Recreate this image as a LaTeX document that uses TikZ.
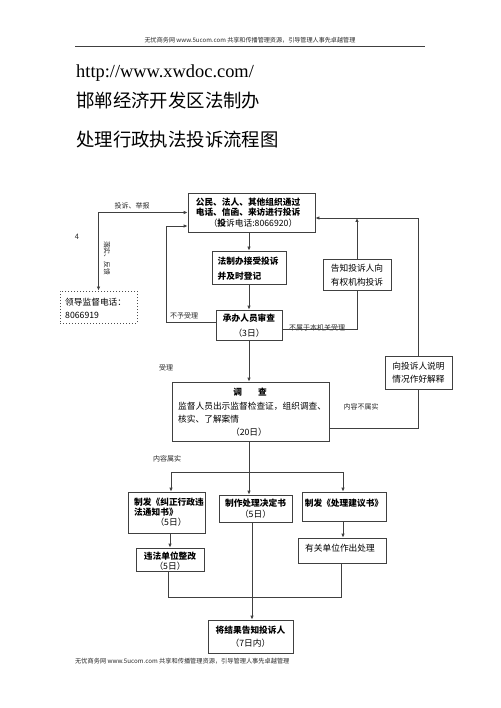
\documentclass[tikz,border=0pt]{standalone}
\usepackage{fontspec}
\setmainfont{Noto Sans CJK SC}
\newfontfamily\urlfont{Liberation Serif}
\usetikzlibrary{arrows.meta}
\begin{document}
\begin{tikzpicture}[x=1pt,y=-1pt,
  box/.style={draw=black!75, line width=0.8pt, inner sep=0pt},
  dbox/.style={draw=black!70, dotted, line width=1pt, inner sep=0pt},
  txt/.style={inner sep=0pt, font=\fontsize{8.7}{10}\selectfont},
  btxt/.style={inner sep=0pt, font=\fontsize{8.7}{10}\selectfont\bfseries},
  lbl/.style={inner sep=0pt, font=\fontsize{7}{8}\selectfont, text=black!85},
  ln/.style={line width=0.8pt, draw=black!75},
  arr/.style={ln, -{Latex[length=4pt,width=3.6pt]}},
  darr/.style={ln, {Latex[length=4pt,width=3.6pt]}-{Latex[length=4pt,width=3.6pt]}},
  title/.style={inner sep=0pt, anchor=west, font=\fontsize{18.4}{20}\selectfont}
]
\useasboundingbox (0,0) rectangle (500,708);

% header / footer
\node[lbl, font=\fontsize{6.1}{8}\selectfont] (hdr) at (250,40) {无忧商务网 www.5ucom.com 共享和传播管理资源，引导管理人事先卓越管理};
\coordinate (hl) at (75,46);
\coordinate (hr) at (425,46);
\draw[line width=0.9pt, black!75] (hl) -- (hr);
\node[lbl, anchor=west, font=\fontsize{6.2}{8}\selectfont] (ftr) at (75,661) {无忧商务网 www.5ucom.com 共享和传播管理资源，引导管理人事先卓越管理};

% titles
\node[title, font=\fontsize{18.4}{20}\selectfont\urlfont] (t0) at (76,73) {http://www.xwdoc.com/};
\node[title] (t1) at (76,101) {邯郸经济开发区法制办};
\node[title] (t2) at (76,140) {处理行政执法投诉流程图};

% boxes
\node[box, minimum width=127pt, minimum height=39pt] (A) at (251.5,212.5) {};
\node[btxt] (a1) at (248,202) {公民、法人、其他组织通过};
\node[btxt] (a2) at (248,212.5) {电话、信函、来访进行投诉};
\node[txt] (a3) at (253,223.5) {（\textbf{投}诉电话:8066920）};

\node[box, minimum width=74pt, minimum height=33pt] (B) at (249,267.5) {};
\node[btxt, anchor=west] (b1) at (217.5,261) {法制办接受投诉};
\node[btxt, anchor=west] (b2) at (217.5,276) {并及时登记};

\node[box, minimum width=66pt, minimum height=30pt] (C) at (249,325) {};
\node[btxt] (c1) at (249,318) {承办人员审查};
\node[txt] (c2) at (249,333) {（3日）};

\node[dbox, minimum width=77pt, minimum height=32pt] (L) at (98.5,307) {};
\node[txt, anchor=west] (l1) at (65,302) {领导监督电话：};
\node[txt, anchor=west] (l2) at (65,315.5) {8066919};

\node[box, minimum width=68pt, minimum height=31pt] (N) at (357,274.5) {};
\node[txt] (n1) at (357,268.5) {告知投诉人向};
\node[txt] (n2) at (357,282.5) {有权机构投诉};

\node[box, minimum width=67pt, minimum height=33pt] (E) at (418.5,372.5) {};
\node[txt] (e1) at (418.5,366) {向投诉人说明};
\node[txt] (e2) at (418.5,379) {情况作好解释};

\node[box, minimum width=157pt, minimum height=59pt] (D) at (250.5,411.5) {};
\node[btxt] (d1) at (250,392) {调\hspace{16pt}查};
\node[txt, anchor=west] (d2) at (178,406.5) {监督人员出示监督检查证，组织调查、};
\node[txt, anchor=west] (d3) at (178,419) {核实、了解案情};
\node[txt] (d4) at (249,432) {（20日）};

\node[box, minimum width=77pt, minimum height=41pt] (F1) at (166.5,512.5) {};
\node[btxt, anchor=west] (f11) at (134,502) {制发《纠正行政违};
\node[btxt, anchor=west] (f12) at (134,512) {法通知书》};
\node[txt] (f13) at (171,522.5) {（5日）};

\node[box, minimum width=73pt, minimum height=27pt] (F2) at (255.5,508.5) {};
\node[btxt] (f21) at (255.5,503) {制作处理决定书};
\node[txt] (f22) at (255.5,514) {（5日）};

\node[box, minimum width=84pt, minimum height=29pt] (F3) at (344,506.5) {};
\node[btxt] (f31) at (344,503) {制发《处理建议书》};

\node[box, minimum width=68pt, minimum height=23pt] (G1) at (170,559.5) {};
\node[btxt] (g11) at (170,556) {违法单位整改};
\node[txt] (g12) at (170,566.5) {（5日）};

\node[box, minimum width=88pt, minimum height=25pt] (G3) at (342,550.5) {};
\node[txt] (g31) at (340,548) {有关单位作出处理};

\node[box, minimum width=85pt, minimum height=33pt] (H) at (250.5,636.5) {};
\node[btxt] (h1) at (250.5,630.5) {将结果告知投诉人};
\node[txt] (h2) at (250.5,643) {（7日内）};

% labels
\node[lbl] (k1) at (132,206) {投诉、举报};
\node[lbl] (k2) at (184,316) {不予受理};
\node[lbl] (k3) at (317,327.5) {不属于本机关受理};
\node[lbl] (k4) at (166,368) {受理};
\node[lbl] (k5) at (361,407) {内容不属实};
\node[lbl] (k6) at (167,459) {内容属实};
\node[lbl, font=\fontsize{7.5}{8}\selectfont] (k7) at (77,237) {4};
\node[lbl, rotate=-90, font=\fontsize{6.8}{8}\selectfont] (k8) at (107,258) {落实、反馈};

% connectors
\draw[arr] (A.south -| B.north) -- (B.north);
\draw[arr] (B.south) -- (C.north);
\coordinate (nL) at (166,322);
\coordinate (aIn) at (0,226);
\draw[arr] (C.west |- nL) -- (nL) |- (A.west |- aIn);
\draw[darr] (L.north) |- (A.west);

\coordinate (rB) at (357,329);
\draw[ln] (C.east |- rB) -| (N.south);
\coordinate (top) at (418.5,218);
\draw[arr] (N.north) -- (N.north |- top);
\draw[arr] (E.north) -- (top) -- (A.east |- top);
\coordinate (dr) at (418.5,428);
\draw[ln] (D.east |- dr) -- (dr) -- (E.south);

\draw[arr] (C.south) -- (C.south |- D.north);

\coordinate (j) at (249,472);
\coordinate (jl) at (171,472);
\coordinate (jr) at (343,472);
\draw[arr] (D.south -| j) -- (j |- F2.north);
\draw[ln] (jl) -- (jr);
\draw[arr] (jl) -- (jl |- F1.north);
\draw[arr] (jr) -- (jr |- F3.north);

\draw[arr] (F1.south -| G1.north) -- (G1.north);
\draw[arr] (F3.south -| jr) -- (jr |- G3.north);

\coordinate (bl) at (168,597);
\coordinate (br) at (341,597);
\coordinate (bm) at (252,597);
\draw[ln] (G1.south -| bl) -- (bl) -- (br) -- (G3.south -| br);
\draw[ln] (F2.south -| bm) -- (bm);
\draw[arr] (bm) -- (bm |- H.north);
\end{tikzpicture}
\end{document}
